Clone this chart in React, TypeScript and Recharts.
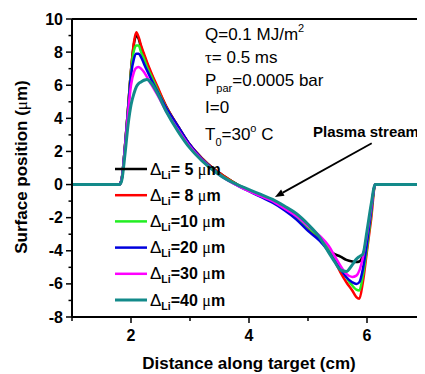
import React from 'react';
import { LineChart, Line, XAxis, YAxis, ReferenceLine } from 'recharts';

// distance along target (cm)
const distance = [1, 1.8, 1.84, 1.9, 1.95, 2.0, 2.05, 2.09, 2.13, 2.17, 2.22, 2.27, 2.35, 2.45, 2.6, 2.8, 3.0, 3.2, 3.4, 3.6, 3.8, 4.0, 4.2, 4.4, 4.6, 4.8, 5.0, 5.2, 5.35, 5.45, 5.55, 5.65, 5.75, 5.82, 5.87, 5.93, 6.0, 6.07, 6.14, 7];

// surface position (um) for each Li layer thickness
const dLi5 = [0, 0, 0.3, 2.4, 4.6, 6.9, 8.5, 9.0, 8.8, 8.3, 7.8, 7.3, 6.6, 5.8, 4.7, 3.5, 2.4, 1.6, 0.95, 0.45, 0.0, -0.35, -0.7, -1.0, -1.4, -1.9, -2.6, -3.3, -3.95, -4.2, -4.35, -4.55, -4.65, -4.68, -4.65, -4.3, -3.2, -1.5, 0, 0];
const dLi8 = [0, 0, 0.3, 2.4, 4.6, 6.9, 8.6, 9.2, 8.9, 8.4, 7.9, 7.4, 6.7, 5.9, 4.7, 3.5, 2.4, 1.6, 0.95, 0.45, 0.0, -0.35, -0.7, -1.0, -1.45, -2.0, -2.6, -3.3, -4.0, -4.6, -5.3, -5.9, -6.4, -6.8, -6.9, -5.9, -4.0, -2.1, 0, 0];
const dLi10 = [0, 0, 0.3, 2.4, 4.6, 6.8, 8.1, 8.4, 8.4, 8.0, 7.6, 7.1, 6.5, 5.7, 4.6, 3.4, 2.35, 1.55, 0.9, 0.4, 0.0, -0.35, -0.7, -1.0, -1.45, -2.0, -2.6, -3.2, -3.85, -4.4, -5.0, -5.6, -6.1, -6.35, -6.4, -5.5, -3.8, -1.8, 0, 0];
const dLi20 = [0, 0, 0.3, 2.4, 4.5, 6.6, 7.6, 7.9, 7.9, 7.7, 7.3, 6.9, 6.3, 5.6, 4.6, 3.5, 2.4, 1.55, 0.9, 0.35, -0.05, -0.4, -0.75, -1.1, -1.55, -2.1, -2.8, -3.4, -4.05, -4.6, -5.1, -5.6, -5.9, -6.0, -5.9, -5.1, -3.5, -1.6, 0, 0];
const dLi30 = [0, 0, 0.3, 2.3, 4.3, 6.0, 6.8, 7.05, 7.1, 7.0, 6.8, 6.5, 6.0, 5.4, 4.4, 3.3, 2.3, 1.5, 0.85, 0.35, -0.05, -0.4, -0.7, -1.0, -1.45, -1.9, -2.5, -3.1, -3.7, -4.3, -4.9, -5.4, -5.58, -5.5, -5.2, -4.4, -3.0, -1.4, 0, 0];
const dLi40 = [0, 0, 0.2, 1.9, 3.6, 4.8, 5.5, 5.9, 6.1, 6.2, 6.3, 6.35, 6.1, 5.5, 4.4, 3.2, 2.2, 1.45, 0.85, 0.35, 0.0, -0.3, -0.6, -0.9, -1.3, -1.75, -2.4, -3.2, -4.1, -4.65, -5.15, -5.25, -4.85, -4.5, -4.35, -4.2, -2.8, -1.2, 0, 0];

const seriesKeys = ['d5', 'd8', 'd10', 'd20', 'd30', 'd40'];
const seriesLabels = ['= 5 ', '= 8 ', '=10 ', '=20 ', '=30 ', '=40 '];
const seriesColors = ['#000000', '#ff0000', '#22ee22', '#0000dd', '#ff00ff', '#138a8a'];
const seriesValues = [dLi5, dLi8, dLi10, dLi20, dLi30, dLi40];

const xTicks = [1, 2, 3, 4, 5, 6, 7];
const yTicks = [-8, -7, -6, -5, -4, -3, -2, -1, 0, 1, 2, 3, 4, 5, 6, 7, 8, 9, 10];

// arrow for the "Plasma stream" note, in data units
const arrowFrom = { x: 6.08, y: 2.5 };
const arrowTo = { x: 4.44, y: -0.75 };

const data = distance.map((x, i) => {
  const row: Record<string, number> = { x };
  seriesKeys.forEach((k, j) => { row[k] = seriesValues[j][i]; });
  return row;
});

const FONT = '"Liberation Sans", Arial, sans-serif';
const SERIF = '"Liberation Serif", "DejaVu Serif", serif';

const YTick = (props: any) => {
  const { x, y, payload } = props;
  const major = payload.value % 2 === 0;
  return (
    <g>
      <line x1={x} x2={x - (major ? 6 : 3.5)} y1={y} y2={y} stroke="#000" strokeWidth={1.5} />
      {major && (
        <text x={x - 9} y={y + 5.5} textAnchor="end" fontSize={16} fontWeight="bold" fontFamily={FONT} fill="#000">
          {payload.value}
        </text>
      )}
    </g>
  );
};

const XTick = (props: any) => {
  const { x, y, payload } = props;
  const major = payload.value % 2 === 0;
  return (
    <g>
      <line x1={x} x2={x} y1={y} y2={y + (major ? 6 : 4)} stroke="#000" strokeWidth={1.5} />
      {major && (
        <text x={x} y={y + 24} textAnchor="middle" fontSize={16} fontWeight="bold" fontFamily={FONT} fill="#000">
          {payload.value}
        </text>
      )}
    </g>
  );
};

const Arrow = (props: any) => {
  const { x1, y1, x2, y2 } = props;
  const a = Math.atan2(y2 - y1, x2 - x1);
  const len = 9, w = 3.5;
  const bx = x2 - len * Math.cos(a), by = y2 - len * Math.sin(a);
  const px = -Math.sin(a) * w, py = Math.cos(a) * w;
  return (
    <g>
      <line x1={x1} y1={y1} x2={bx} y2={by} stroke="#000" strokeWidth={1.8} />
      <polygon points={`${x2},${y2} ${bx + px},${by + py} ${bx - px},${by - py}`} fill="#000" />
    </g>
  );
};

export default function App() {
  return (
    <div style={{ position: 'relative', width: 417, height: 366, overflow: 'hidden', background: '#fff' }}>
      <LineChart width={430} height={366} data={data} margin={{ top: 11, right: 12, left: 0, bottom: 0 }}>
        <XAxis
          dataKey="x"
          type="number"
          domain={[1, 7]}
          ticks={xTicks}
          interval={0}
          tickSize={0}
          tickMargin={0}
          tick={<XTick />}
          axisLine={{ stroke: '#000', strokeWidth: 2 }}
          tickLine={false}
          height={57}
          allowDataOverflow
        />
        <YAxis
          type="number"
          domain={[-8, 10]}
          ticks={yTicks}
          interval={0}
          tickSize={0}
          tickMargin={0}
          tick={<YTick />}
          axisLine={{ stroke: '#000', strokeWidth: 2 }}
          tickLine={false}
          width={64}
          allowDataOverflow
        />
        <ReferenceLine y={10} stroke="#000" strokeWidth={2} />
        {seriesKeys.map((k, i) => (
          <Line
            key={k}
            dataKey={k}
            type="monotone"
            stroke={seriesColors[i]}
            strokeWidth={i === 5 ? 3 : 2.5}
            dot={false}
            isAnimationActive={false}
          />
        ))}
        <ReferenceLine segment={[arrowFrom, arrowTo]} shape={<Arrow />} ifOverflow="visible" />
      </LineChart>

      <svg width={417} height={366} style={{ position: 'absolute', left: 0, top: 0, pointerEvents: 'none' }} fontFamily={FONT}>
        <text transform="rotate(-90)" x={-159} y={19} textAnchor="middle" fontSize={17} fontWeight="bold" fill="#000">
          Surface position (<tspan fontFamily={SERIF} fontWeight="normal">μ</tspan>m)
        </text>
        <text x={241} y={361} textAnchor="middle" fontSize={17} fontWeight="bold" fill="#000">
          Distance along target (cm)
        </text>

        <g fontSize={17} fill="#000">
          <text x={197} y={32}>Q=0.1 MJ/m<tspan fontSize={11} dy={-8}>2</tspan></text>
          <text x={197} y={55}><tspan fontFamily={SERIF}>τ</tspan>= 0.5 ms</text>
          <text x={197} y={78}>P<tspan fontSize={11} dy={6}>par</tspan><tspan dy={-6}>=0.0005 bar</tspan></text>
          <text x={197} y={105}>I=0</text>
          <text x={197} y={132}>T<tspan fontSize={11} dy={6}>0</tspan><tspan dy={-6}>=30</tspan><tspan fontSize={11} dy={-8}>o</tspan><tspan dy={8}> C</tspan></text>
        </g>
        <text x={305} y={129} fontSize={15} fontWeight="bold" fill="#000">Plasma stream</text>

        {seriesKeys.map((k, i) => {
          const cy = 161 + i * 26.2;
          return (
            <g key={k}>
              <line x1={107} x2={139} y1={cy} y2={cy} stroke={seriesColors[i]} strokeWidth={i === 5 ? 3 : 2.5} />
              <text x={142} y={cy + 5.5} fontSize={16} fill="#000" style={{ whiteSpace: 'pre' }}>
                <tspan fontSize={17}>Δ</tspan>
                <tspan fontSize={10.5} fontWeight="bold" dy={4}>Li</tspan>
                <tspan fontWeight="bold" dy={-4}>{seriesLabels[i]}</tspan>
                <tspan fontFamily={SERIF}>μ</tspan>
                <tspan fontWeight="bold">m</tspan>
              </text>
            </g>
          );
        })}
      </svg>
    </div>
  );
}
